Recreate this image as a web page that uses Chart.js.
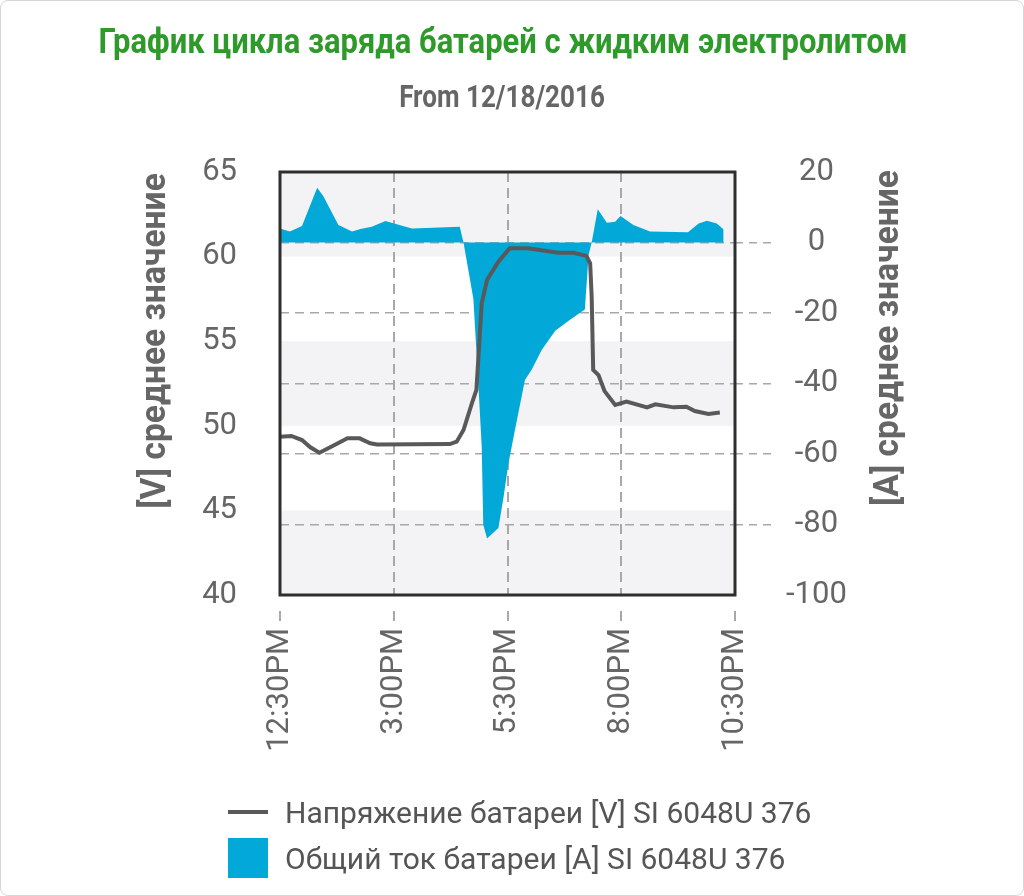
<!DOCTYPE html>
<html>
<head>
<meta charset="utf-8">
<script src="https://cdn.jsdelivr.net/npm/chart.js@4"></script>
<style>
  body { margin: 0; background: #fff; }
  #wrap { position: relative; width: 1024px; height: 896px; }
  #frame { position: absolute; inset: 0; border: 1px solid #d6d6d6; border-radius: 8px; pointer-events: none; }
  #legend { position: absolute; left: 228px; top: 789px; font: 30px Roboto, sans-serif; color: #555; }
  .item { display: flex; align-items: center; height: 46px; }
  .sym { width: 40px; margin-right: 17px; flex: none; }
</style>
</head>
<body>
<div id="wrap">
  <canvas id="chart" width="1024" height="896"></canvas>
  <div id="legend"></div>
  <div id="frame"></div>
</div>
<script>
const titleText = "График цикла заряда батарей с жидким электролитом";
const subtitleText = "From 12/18/2016";
const leftTitle = "[V] среднее значение";
const rightTitle = "[A] среднее значение";
const voltLabel = "Напряжение батареи [V] SI 6048U 376";
const currentLabel = "Общий ток батареи [A] SI 6048U 376";

// x axis: minutes after 12:30PM
const tickMinutes = [0, 150, 300, 450, 600];
const tickLabels = ["12:30PM", "3:00PM", "5:30PM", "8:00PM", "10:30PM"];

// battery voltage [V]
const voltTimes = [0, 15, 29, 40, 52, 70, 89, 105, 119, 128, 224, 233, 242, 253, 259, 266, 273, 288, 303, 327, 367, 387, 404, 409, 411, 413, 420, 428, 442, 457, 484, 495, 519, 536, 547, 565, 580];
const voltValues = [49.36, 49.4, 49.16, 48.73, 48.41, 48.82, 49.26, 49.26, 48.97, 48.9, 48.92, 49.06, 49.75, 51.33, 52.12, 57.24, 58.62, 59.7, 60.49, 60.49, 60.23, 60.23, 60.04, 59.6, 57.63, 53.3, 53.0, 52.05, 51.23, 51.43, 51.09, 51.27, 51.09, 51.13, 50.87, 50.7, 50.78];

// total battery current [A]
const currentTimes = [0, 13, 29, 49, 57, 77, 95, 106, 121, 139, 154, 174, 237, 242, 255, 262, 266, 268, 273, 288, 295, 301, 310, 323, 332, 345, 363, 382, 402, 407, 411, 419, 431, 442, 449, 466, 488, 538, 552, 563, 576, 585];
const currentValues = [4.0, 3.1, 4.7, 15.5, 13.2, 5.0, 3.1, 3.8, 4.5, 6.1, 5.2, 4.0, 4.5, 0, -16, -42, -58, -80, -84, -81, -72, -63, -53, -39, -36, -30.5, -25, -22, -19, -3.5, 0, 9.4, 5.6, 5.9, 7.5, 5.0, 3.1, 2.9, 5.4, 6.2, 5.4, 3.7];

Chart.defaults.font.family = "Roboto, sans-serif";
Chart.defaults.color = "#666";

// condensed bold text (no narrow face installed, so squeeze Roboto)
function narrowText(ctx, text, x, y, size, squeeze, color, angle) {
  ctx.save();
  ctx.font = "bold " + size + "px Roboto, sans-serif";
  ctx.fillStyle = color;
  ctx.textAlign = "center";
  ctx.textBaseline = "alphabetic";
  ctx.translate(x, y);
  if (angle) ctx.rotate(angle);
  ctx.scale(squeeze, 1);
  ctx.fillText(text, 0, 0);
  ctx.restore();
}

// alternating shaded bands on the voltage axis
const bands = {
  id: "bands",
  beforeDraw(chart) {
    const { ctx, chartArea: a, scales: { y } } = chart;
    ctx.save();
    ctx.fillStyle = "#f3f3f6";
    for (let i = 0; i < y.ticks.length - 1; i += 2) {
      const top = y.getPixelForValue(y.ticks[i + 1].value);
      const bot = y.getPixelForValue(y.ticks[i].value);
      ctx.fillRect(a.left, top, a.right - a.left, bot - top);
    }
    ctx.restore();
  }
};

// frame round the plot, titles
const frame = {
  id: "frame",
  afterDatasetsDraw(chart) {
    const { ctx, chartArea: a } = chart;
    ctx.save();
    ctx.strokeStyle = "#2e2e2e";
    ctx.lineWidth = 3;
    ctx.strokeRect(a.left, a.top, a.right - a.left, a.bottom - a.top);
    ctx.restore();
  },
  afterDraw(chart) {
    const { ctx, chartArea: a } = chart;
    narrowText(ctx, titleText, 503, 53, 35, 0.885, "#2e9a2a");
    narrowText(ctx, subtitleText, 502, 107, 31, 0.84, "#666");
    narrowText(ctx, leftTitle, 165, a.top + 169, 35, 0.96, "#666", -Math.PI / 2);
    narrowText(ctx, rightTitle, 898, a.top + 166, 35, 0.96, "#666", -Math.PI / 2);
  }
};

const htmlLegend = {
  id: "htmlLegend",
  afterUpdate(chart) {
    const box = document.getElementById("legend");
    box.innerHTML = "";
    chart.options.plugins.legend.labels.generateLabels(chart).forEach(item => {
      const ds = chart.data.datasets[item.datasetIndex];
      const row = document.createElement("div");
      row.className = "item";
      const sym = document.createElement("span");
      sym.className = "sym";
      if (ds.fill) {
        sym.style.height = "40px";
        sym.style.background = ds.backgroundColor;
      } else {
        sym.style.height = ds.borderWidth + "px";
        sym.style.background = ds.borderColor;
      }
      const txt = document.createElement("span");
      txt.textContent = item.text;
      row.appendChild(sym);
      row.appendChild(txt);
      box.appendChild(row);
    });
  }
};

const edge = (v, lo, hi) => v === lo || v === hi;

new Chart(document.getElementById("chart"), {
  type: "line",
  data: {
    datasets: [
      {
        label: voltLabel,
        data: voltTimes.map((t, i) => ({ x: t, y: voltValues[i] })),
        yAxisID: "y",
        borderColor: "#595959",
        borderWidth: 4,
        pointRadius: 0,
        tension: 0,
        fill: false
      },
      {
        label: currentLabel,
        data: currentTimes.map((t, i) => ({ x: t, y: currentValues[i] })),
        yAxisID: "y1",
        backgroundColor: "#02a9d8",
        borderColor: "#02a9d8",
        borderWidth: 0,
        pointRadius: 0,
        tension: 0,
        fill: { value: 0 }
      }
    ]
  },
  options: {
    responsive: false,
    animation: false,
    layout: { padding: { top: 172 } },
    plugins: {
      legend: { display: false },
      tooltip: { enabled: false }
    },
    scales: {
      x: {
        type: "linear",
        min: tickMinutes[0],
        max: tickMinutes[tickMinutes.length - 1],
        afterBuildTicks: s => { s.ticks = tickMinutes.map(v => ({ value: v })); },
        afterFit: s => { s.height = 301; },
        ticks: {
          autoSkip: false,
          minRotation: 90,
          maxRotation: 90,
          padding: 7,
          font: { size: 31 },
          callback: (v, i) => tickLabels[i]
        },
        grid: {
          color: c => edge(c.tick && c.tick.value, 0, 600) ? "transparent" : "#a8a8a8",
          tickColor: "#a8a8a8",
          lineWidth: 2,
          tickLength: 26,
          tickBorderDash: [0, 16, 10, 20]
        },
        border: { display: false, dash: [10, 6] }
      },
      y: {
        position: "left",
        min: 40,
        max: 65,
        afterFit: s => { s.width = 280; },
        ticks: { stepSize: 5, padding: 43, font: { size: 31 } },
        grid: { display: false, drawTicks: false },
        border: { display: false }
      },
      y1: {
        position: "right",
        min: -100,
        max: 20,
        afterFit: s => { s.width = 289; },
        ticks: { stepSize: 20, padding: 13, crossAlign: "center", font: { size: 31 } },
        grid: {
          color: c => edge(c.tick && c.tick.value, -100, 20) ? "transparent" : "#a8a8a8",
          tickColor: c => edge(c.tick && c.tick.value, -100, 20) ? "transparent" : "#a8a8a8",
          lineWidth: 1.5,
          tickLength: 38,
          tickBorderDash: [8, 6]
        },
        border: { display: false, dash: [9, 6] }
      }
    }
  },
  plugins: [bands, frame, htmlLegend]
});
</script>
</body>
</html>
